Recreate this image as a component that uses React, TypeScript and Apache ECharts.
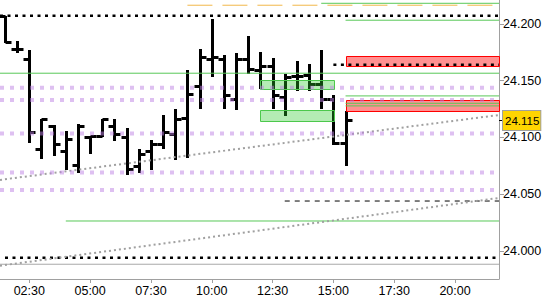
import React, { useEffect, useRef } from 'react';
import * as echarts from 'echarts';

// ---- data ----
const barTimes = [1.5, 2, 2.5, 3, 3.5, 4, 4.5, 5, 5.5, 6, 6.5, 7, 7.5, 8, 8.5, 9, 9.5, 10, 10.5, 11, 11.5, 12, 12.5, 13, 13.5, 14, 14.5, 15, 15.5];
const opens = [24.207, 24.178, 24.169, 24.090, 24.110, 24.088, 24.076, 24.100, 24.101, 24.110, 24.100, 24.075, 24.088, 24.094, 24.103, 24.117, 24.145, 24.169, 24.169, 24.134, 24.169, 24.159, 24.163, 24.136, 24.154, 24.155, 24.147, 24.134, 24.095];
const highs = [24.207, 24.185, 24.177, 24.116, 24.111, 24.106, 24.112, 24.101, 24.116, 24.116, 24.108, 24.090, 24.098, 24.120, 24.125, 24.159, 24.178, 24.204, 24.173, 24.174, 24.189, 24.175, 24.170, 24.156, 24.167, 24.165, 24.177, 24.137, 24.123];
const lows = [24.183, 24.174, 24.095, 24.081, 24.084, 24.071, 24.069, 24.085, 24.100, 24.097, 24.067, 24.069, 24.071, 24.090, 24.080, 24.082, 24.125, 24.153, 24.125, 24.124, 24.156, 24.143, 24.125, 24.119, 24.141, 24.141, 24.125, 24.093, 24.075];
const closes = [24.184, 24.178, 24.105, 24.116, 24.094, 24.099, 24.110, 24.101, 24.116, 24.103, 24.072, 24.085, 24.094, 24.105, 24.116, 24.138, 24.171, 24.171, 24.137, 24.169, 24.160, 24.163, 24.137, 24.153, 24.154, 24.147, 24.134, 24.095, 24.115];

const xTickValues = [2.5, 5, 7.5, 10, 12.5, 15, 17.5, 20];
const yTickValues = [24.0, 24.05, 24.1, 24.15, 24.2];

// levels: [price, start hour] (null = from the left edge)
const greenLevels: [number, number | null][] = [[24.2182, 14.5], [24.2033, 15.5], [24.1566, null], [24.1366, 15.5], [24.1301, 15.5], [24.1278, 15.5], [24.0264, 4.0]];
const blackDottedLevels: [number, number | null][] = [[24.2073, null], [24.1641, 15.0], [23.9941, 1.5]];
const purpleLevels = [24.1439, 24.133, 24.1035, 24.0692, 24.0537];
const orangeDashedLevels: [number, number | null][] = [[24.2165, 9.0]];
const blackDashedLevels: [number, number | null][] = [[24.044, 13.0]];
const greyLevels: [number, number | null][] = [[23.9883, null]];
// zones: [top, bottom, start hour, end hour|null]
const redZones: [number, number, number, number | null][] = [[24.1718, 24.1627, 15.5, null], [24.133, 24.1236, 15.5, null]];
const greenZones: [number, number, number, number | null][] = [[24.1507, 24.1425, 12.0, 15.04], [24.1242, 24.1148, 12.0, 15.04]];
// trend lines: [price at left edge, price at right edge]
const trendLines: [number, number][] = [[24.0626, 24.1198], [23.987, 24.0467]];

const X_MIN = 1.295;
const X_MAX = 21.808;
const Y_MIN = 23.9753;
const Y_MAX = 24.2211;

const lastClose = closes[closes.length - 1];

const fmtHour = (v: number) => {
  const h = Math.floor(v + 1e-6);
  const m = Math.round((v - h) * 60);
  return String(h).padStart(2, '0') + ':' + String(m).padStart(2, '0');
};

const FONT = 'Liberation Sans, Arial, sans-serif';

function hLines(levels: [number, number | null][], lineStyle: any, z: number) {
  return levels.map(([v, from]) => ({
    type: 'line',
    data: [[from ?? X_MIN, v], [X_MAX, v]],
    symbol: 'none',
    silent: true,
    lineStyle,
    z,
  }));
}

function zoneSeries(zones: [number, number, number, number | null][], fill: string, stroke: string, z: number) {
  return {
    type: 'custom',
    silent: true,
    z,
    data: zones.map(([top, bottom, from, to]) => [from, to ?? X_MAX, top, bottom]),
    encode: { x: [0, 1], y: [2, 3] },
    renderItem: (_p: any, api: any) => {
      const a = api.coord([api.value(0), api.value(2)]);
      const b = api.coord([api.value(1), api.value(3)]);
      const x = Math.round(a[0]) + 0.5;
      const y = Math.round(a[1]) + 0.5;
      return {
        type: 'rect',
        shape: { x, y, width: Math.round(b[0]) - Math.round(a[0]), height: Math.round(b[1]) - Math.round(a[1]) },
        style: { fill, stroke, lineWidth: 1 },
      };
    },
  };
}

export default function App() {
  const ref = useRef<HTMLDivElement>(null);
  useEffect(() => {
    document.body.style.margin = '0';
    if (!ref.current) return;
    const chart = echarts.init(ref.current, undefined, { renderer: 'svg' });
    const ohlc = barTimes.map((t, i) => [t, opens[i], highs[i], lows[i], closes[i]]);
    const option: any = {
      animation: false,
      backgroundColor: '#fff',
      grid: { left: 0, right: 51, top: 0, bottom: 21 },
      xAxis: {
        type: 'value',
        min: X_MIN,
        max: X_MAX,
        splitLine: { show: false },
        axisLine: { lineStyle: { color: '#a0a0a0', width: 1 } },
        axisTick: { customValues: xTickValues, length: 4, lineStyle: { color: '#a0a0a0' } },
        axisLabel: {
          customValues: xTickValues,
          formatter: (v: number) => fmtHour(v),
          color: '#000',
          fontSize: 12.5,
          fontFamily: FONT,
          margin: 5,
        },
      },
      yAxis: [
        {
          type: 'value',
          position: 'right',
          min: Y_MIN,
          max: Y_MAX,
          scale: true,
          splitLine: { show: false },
          axisLine: { show: true, lineStyle: { color: '#a0a0a0', width: 1 } },
          axisTick: { show: true, customValues: yTickValues, length: 5, lineStyle: { color: '#a0a0a0' } },
          axisLabel: {
            customValues: [...yTickValues, lastClose],
            formatter: (v: number) => (Math.abs(v - lastClose) < 1e-9 ? '{hl|' + v.toFixed(3) + '}' : v.toFixed(3)),
            color: '#000',
            fontSize: 12.5,
            fontFamily: FONT,
            margin: 4,
            rich: {
              hl: {
                backgroundColor: '#ffd500',
                borderColor: '#a0a0a0',
                borderWidth: 1,
                padding: [4, 1, 3, 2],
                color: '#000',
                fontSize: 11.5,
                fontFamily: FONT,
              },
            },
          },
        },
        {
          type: 'value',
          position: 'right',
          min: Y_MIN,
          max: Y_MAX,
          scale: true,
          splitLine: { show: false },
          axisLine: { show: false },
          axisTick: { show: true, customValues: [lastClose], length: 6, lineStyle: { color: '#000', width: 1 } },
          axisLabel: { show: false },
        },
      ],
      series: [
        zoneSeries(greenZones, 'rgba(40,200,40,0.35)', '#4cc84c', 3),
        zoneSeries(redZones, 'rgba(255,0,0,0.43)', '#ff0000', 3),
        {
          type: 'custom',
          z: 2,
          silent: true,
          data: ohlc,
          encode: { x: 0, y: [1, 2, 3, 4] },
          renderItem: (_p: any, api: any) => {
            const t = api.value(0);
            const pO = api.coord([t, api.value(1)]);
            const pH = api.coord([t, api.value(2)]);
            const pL = api.coord([t, api.value(3)]);
            const pC = api.coord([t, api.value(4)]);
            const cx = Math.round(pH[0]) + 0.5;
            const yo = Math.round(pO[1]) + 0.5;
            const yc = Math.round(pC[1]) + 0.5;
            const style = { stroke: '#000', lineWidth: 3 };
            return {
              type: 'group',
              children: [
                { type: 'line', shape: { x1: cx, y1: Math.round(pH[1]), x2: cx, y2: Math.round(pL[1]) }, style },
                { type: 'line', shape: { x1: cx - 6, y1: yo, x2: cx, y2: yo }, style },
                { type: 'line', shape: { x1: cx, y1: yc, x2: cx + 6, y2: yc }, style },
              ],
            };
          },
        },
        ...hLines(greyLevels, { color: '#a8a8a8', width: 1 }, 3),
        ...hLines(greenLevels, { color: '#58c858', width: 1 }, 4),
        ...hLines(orangeDashedLevels, { color: '#f2b84a', width: 1, type: [25, 10] }, 4),
        ...hLines(blackDashedLevels, { color: '#000', width: 1, type: [5, 5] }, 4),
        ...hLines(blackDottedLevels, { color: '#000', width: 2.5, type: [3, 4.5] }, 4),
        ...trendLines.map(([a, b]) => ({
          type: 'line',
          data: [[X_MIN, a], [X_MAX, b]],
          symbol: 'none',
          silent: true,
          z: 4,
          lineStyle: { color: '#a0a0a0', width: 2, type: [2, 3] },
        })),
        ...hLines(purpleLevels.map((v) => [v, null] as [number, number | null]), { color: 'rgba(190,130,228,0.5)', width: 4, type: [4, 6] }, 5),
      ],
    };
    chart.setOption(option);
    return () => chart.dispose();
  }, []);
  return <div ref={ref} style={{ width: 550, height: 300 }} />;
}
